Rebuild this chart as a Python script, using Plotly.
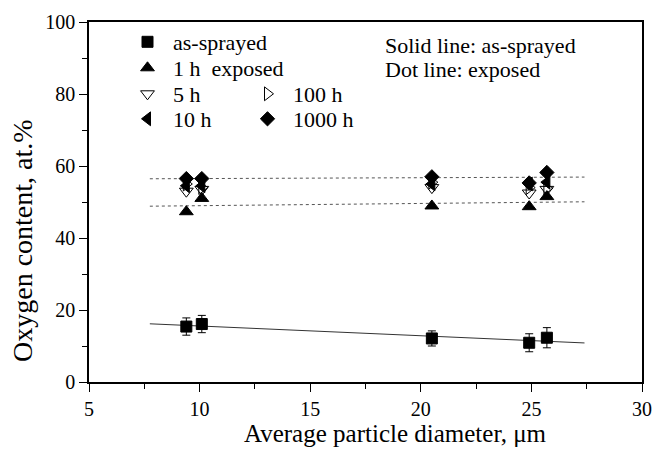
import numpy as np
import plotly.graph_objects as go

# ---- data ----
diameter = [9.4, 10.1, 20.5, 24.9, 25.7]
as_sprayed = [15.4, 16.1, 12.1, 10.9, 12.3]
as_sprayed_err = [2.4, 2.4, 2.1, 2.5, 2.8]
h1 = [47.3, 51.0, 48.9, 48.7, 51.5]
h5 = [53.0, 53.5, 54.0, 52.5, 53.5]
h10 = [54.5, 54.5, 55.0, 55.0, 55.5]
h100 = [55.0, 54.0, 55.5, 54.0, 53.8]
h1000 = [56.5, 56.5, 57.0, 55.3, 58.2]
fit_x_range = [7.75, 27.4]

x_ticks = [5, 10, 15, 20, 25, 30]
y_ticks = [0, 20, 40, 60, 80, 100]

FONT = "'Liberation Serif', 'Times New Roman', serif"
fig = go.Figure()

def fit(xs, ys):
    k, b = np.polyfit(xs, ys, 1)
    fx = np.array(fit_x_range)
    return fx, k * fx + b

fx, fy = fit(diameter, as_sprayed)
fig.add_trace(go.Scatter(x=fx, y=fy, mode="lines", line=dict(color="#333", width=1),
                         showlegend=False, hoverinfo="skip"))
fx, fy = fit(diameter, h1)
fig.add_trace(go.Scatter(x=fx, y=fy, mode="lines", line=dict(color="#555", width=1, dash="dot"),
                         showlegend=False, hoverinfo="skip"))
fx, fy = fit(diameter, h1000)
fig.add_trace(go.Scatter(x=fx, y=fy, mode="lines", line=dict(color="#555", width=1, dash="dot"),
                         showlegend=False, hoverinfo="skip"))

series = [
    ("as-sprayed", as_sprayed, "square", 11, "legend"),
    ("1 h  exposed", h1, "triangle-up", 12, "legend2"),
    ("5 h", h5, "triangle-down-open", 12, "legend3"),
    ("10 h", h10, "triangle-left", 12, "legend4"),
    ("100 h", h100, "triangle-right-open", 12, "legend5"),
    ("1000 h", h1000, "diamond", 11, "legend6"),
]
for name, vals, sym, size, leg in series:
    kw = {}
    if name == "as-sprayed":
        kw["error_y"] = dict(type="data", array=as_sprayed_err, color="black", thickness=1, width=4)
    fig.add_trace(go.Scatter(
        x=diameter, y=vals, mode="markers", name=name, legend=leg,
        marker=dict(symbol=sym, size=size, color="black",
                    line=dict(color="black", width=1)),
        **kw))

L, R, T, B = 89, 642, 22, 382
def px(xp):
    return (xp - L) / (R - L)
def py(yp):
    return (B - yp) / (B - T)

leg_common = dict(font=dict(family=FONT, size=22, color="black"), bgcolor="rgba(0,0,0,0)",
                  borderwidth=0, xanchor="left", yanchor="middle", itemwidth=41)
leg_pos = {"legend": (122, 42), "legend2": (122, 68), "legend3": (122, 94), "legend4": (122, 119),
           "legend5": (242, 94), "legend6": (242, 119)}
legends = {k: dict(leg_common, x=px(v[0]), y=py(v[1])) for k, v in leg_pos.items()}

axis_common = dict(showline=True, linecolor="black", linewidth=1.5, mirror=True,
                   ticks="outside", ticklen=8, tickwidth=1.2, tickcolor="black",
                   showgrid=False, zeroline=False, automargin=False,
                   tickfont=dict(family=FONT, size=20, color="black"))

fig.update_layout(
    width=654, height=449,
    margin=dict(l=L, r=654 - R, t=T, b=449 - B),
    plot_bgcolor="white", paper_bgcolor="white",
    font=dict(family=FONT, color="black"),
    xaxis=dict(axis_common, range=[5, 30], tickvals=x_ticks,
               minor=dict(dtick=2.5, ticks="outside", ticklen=5, tickcolor="black", tickwidth=1.2)),
    yaxis=dict(axis_common, range=[0, 100], tickvals=y_ticks,
               minor=dict(dtick=10, ticks="outside", ticklen=5, tickcolor="black", tickwidth=1.2)),
    annotations=[
        dict(text="Average particle diameter, μm", x=px(395), y=py(449), xref="paper", yref="paper",
             xanchor="center", yanchor="bottom", showarrow=False,
             font=dict(family=FONT, size=25, color="black")),
        dict(text="Oxygen content, at.%", x=px(22), y=py(241), xref="paper", yref="paper",
             xanchor="center", yanchor="middle", showarrow=False, textangle=-90,
             font=dict(family=FONT, size=28, color="black")),
        dict(text="Solid line: as-sprayed", x=px(383), y=py(45), xref="paper", yref="paper",
             xanchor="left", yanchor="middle", showarrow=False,
             font=dict(family=FONT, size=22, color="black")),
        dict(text="Dot line: exposed", x=px(383), y=py(70), xref="paper", yref="paper",
             xanchor="left", yanchor="middle", showarrow=False,
             font=dict(family=FONT, size=22, color="black")),
    ],
    **legends,
)

fig.write_html("out.html")
